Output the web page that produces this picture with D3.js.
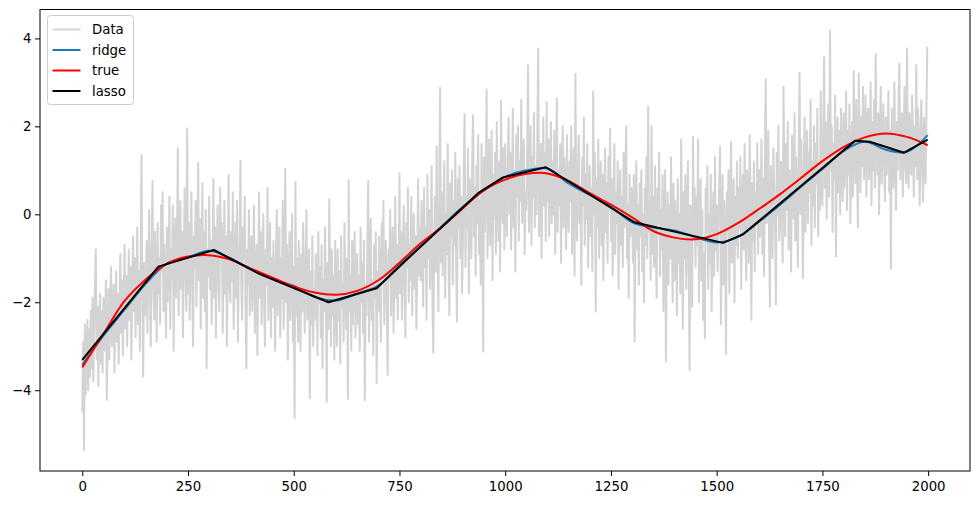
<!DOCTYPE html>
<html>
<head>
<meta charset="utf-8">
<script src="https://cdn.jsdelivr.net/npm/d3@7"></script>
<style>
body { margin: 0; background: #fff; }
svg { display: block; font-family: 'DejaVu Sans', sans-serif; }
</style>
</head>
<body>
<div id="chart"></div>
<script>
// noisy samples, one every 2 steps from 0 to 1998 (each row covers 50 steps)
const dataStep = 2
const dataY = [
	-4.5, -2.9, -5.36, -2.5, -4.1, -3.2, -2.4, -4.0, -2.6, -3.7, -2.2, -3.5, -1.9, -3.8, -2.7, -1.6, -0.8, -3.3, -2.1, -3.9, -2.4, -1.8, -3.4, -2.2, -3.6,
	-1.9, -3.1, -2.4, -1.5, -4.22, -2.8, -1.7, -3.3, -2.0, -1.2, -3.0, -2.5, -1.6, -3.6, -2.2, -1.3, -2.9, -1.8, -3.4, -2.3, -0.9, -2.7, -1.5, -3.2, -2.0,
	-0.7, -2.6, -1.4, -3.0, -1.9, -0.8, -2.4, -1.2, -3.3, -1.7, -0.5, -2.2, -1.0, -2.8, -1.6, -0.3, -2.5, -1.3, -3.1, -0.9, 1.35, -2.0, -3.69, -1.1, -2.3,
	-2.1, -0.6, -2.7, -1.2, 0.1, -1.9, -3.0, -0.8, 0.76, -1.6, -2.4, -0.4, -1.4, -2.9, -0.2, -1.8, -1.0, -2.5, 0.2, -1.3, 0.5, -2.2, -0.7, -1.5, -2.8,
	-0.3, -2.0, -1.1, 0.4, -2.6, -0.8, -1.5, 0.2, -3.1, -1.0, -0.1, -1.9, -0.6, 1.5, -2.3, -1.2, 0.3, -1.7, -0.4, -2.8, -0.9, 0.6, -1.4, -2.2, 1.95,
	-1.8, -0.2, -2.4, -0.9, 0.5, -1.6, -3.0, -0.5, -1.2, 0.3, -2.1, -0.7, 1.18, -1.5, -0.1, -2.6, -1.0, 0.7, -1.9, -0.4, -2.2, 0.1, -3.5, -0.8, -1.4,
	0.4, -1.7, -0.6, -2.5, -1.1, 0.8, -1.9, -0.3, -2.8, -0.9, 0.2, -1.4, -2.2, 0.6, -1.0, -0.2, -2.7, -1.3, 0.3, -1.8, -0.5, -3.0, -1.1, 0.9, -1.6,
	-2.0, -0.4, -1.5, 0.5, -2.6, -1.1, -0.2, -1.9, 0.3, -2.9, -1.3, -0.6, 1.21, -1.7, -2.4, -0.3, -1.0, 0.4, -2.1, -3.5, -0.8, -1.6, 0.1, -2.3, -1.2,
	-0.5, -2.2, -1.0, 0.2, -2.7, -1.5, -0.7, -3.2, -1.2, 0.5, -1.9, -0.4, -2.5, -1.1, 0.0, -2.0, -3.0, -0.8, -1.6, 0.6, -2.4, -1.3, -0.2, -2.8, -1.0,
	-2.1, -0.6, -1.7, -3.1, -0.9, 0.1, -2.3, -1.4, -0.3, -2.8, -1.0, -1.9, 0.3, -2.6, -1.2, 1.03, -2.0, -0.7, -3.3, -1.5, -0.4, -2.4, -1.1, 0.0, -2.9,
	-1.2, -4.64, 0.74, -2.3, -1.0, -2.9, -0.6, -1.8, -3.1, -0.9, -2.2, -0.2, -1.5, -2.7, -1.1, 0.1, -2.4, -1.6, -0.8, -4.18, -1.3, -2.5, -0.5, -3.0, -1.7,
	-2.4, -0.9, -1.6, -3.2, -0.4, -2.0, -1.2, -2.8, -0.7, -3.5, -1.5, -2.2, -0.3, -1.9, -4.26, -1.1, -2.6, 0.35, -1.7, -3.0, -0.8, -2.3, -1.4, -3.3, -0.6,
	-1.9, -3.0, -0.8, -2.4, -1.3, -3.4, -0.5, -2.1, -1.6, -2.9, -0.2, -1.8, -2.6, -1.0, -4.2, 0.78, -2.2, -1.4, -3.1, -0.6, -2.5, -1.2, -0.4, -2.8, -1.7,
	-0.9, -2.5, -1.4, -3.1, -0.3, -2.0, -1.1, -2.7, -0.6, -4.22, -1.6, -2.3, -0.8, 0.76, -2.9, -1.2, -0.1, -2.4, -1.5, -3.2, -0.7, -1.9, -0.4, -3.84, -1.3,
	-2.2, -0.5, -1.7, -2.9, -0.2, -1.4, 0.3, -2.5, -1.0, -0.6, -2.0, -3.65, -0.8, -1.5, 0.1, -2.3, -1.1, -0.3, -2.7, -1.6, 0.4, -1.9, -0.7, -2.4, -0.9,
	0.93, -1.8, -0.4, -2.4, -1.0, 0.2, -1.6, -2.8, -0.2, -1.2, 0.6, -2.0, -0.7, -1.5, 0.4, -2.3, -0.9, 0.0, -1.7, -0.5, -2.6, -1.1, 0.8, -1.4, -0.3,
	-1.5, 0.3, -0.8, -2.1, 0.6, -1.2, -0.3, -2.4, 0.9, -1.0, 0.1, -1.7, -0.5, 1.1, -2.0, -3.15, -0.6, 0.4, -1.3, 1.55, -0.9, -2.2, 0.2, 2.88, -1.1,
	0.5, -1.4, -0.2, 1.2, -1.9, 0.0, -0.9, 1.6, -1.1, -2.3, 0.7, -0.5, 1.0, -1.6, 0.3, -0.7, 1.4, -1.2, -2.44, 0.8, -0.3, 1.1, -1.0, 0.4, -1.8,
	-0.6, 1.0, 2.28, -1.2, 0.4, -0.3, 1.5, -1.8, 0.8, 0.0, -1.0, 1.3, 2.25, -0.5, 0.6, -1.4, 1.1, -0.2, 1.8, -0.9, 0.3, -1.6, 1.6, 0.1, -3.12,
	1.3, -0.4, 0.8, 2.84, -1.0, 0.2, 1.7, -0.7, 0.5, 1.9, -1.5, 0.9, -0.1, 1.4, -0.9, 2.1, 0.3, -0.6, 1.2, -1.3, 2.58, 0.6, -0.2, 1.5, -0.8,
	1.6, 0.2, -0.5, 1.1, 2.2, 0.0, 1.4, -0.8, 0.7, 2.4, -0.3, 1.0, -1.3, 1.8, 0.4, 2.0, -0.6, 1.2, 0.3, 2.6, -0.2, 0.9, 1.7, -0.9, 0.5,
	0.1, 1.5, 3.39, -0.4, 0.9, 2.0, -0.7, 1.3, 0.4, 2.3, -0.3, 1.1, 0.0, 1.8, 3.77, -0.5, 0.7, 1.6, -1.0, 0.8, 2.2, 0.2, 1.4, -0.6, 2.55,
	0.3, 1.7, -0.5, 0.9, 2.1, -0.2, 1.2, 0.0, 1.9, -0.9, 0.6, 2.64, -0.4, 1.0, 0.2, 1.6, -1.1, 0.8, 2.0, -0.3, 1.3, 0.5, -0.8, 1.8, 0.1,
	-0.4, 1.2, 0.3, 2.0, -0.9, 0.7, 1.5, -1.4, 3.19, 0.1, -0.6, 1.0, 1.8, -0.2, 0.5, -1.6, 1.3, 0.2, 2.2, -0.7, 0.9, -0.1, 1.6, -1.2, 0.4,
	1.1, -0.5, 0.6, -1.3, 2.79, 0.0, 1.4, -2.21, 0.8, -0.3, 1.7, -1.0, 0.4, 1.2, -0.7, 0.9, -1.5, 0.2, 1.5, -0.4, 0.7, -1.1, 1.3, 0.1, 1.95,
	-0.6, 0.8, -1.4, 0.3, 1.6, -0.9, 0.5, -0.2, 1.2, -1.7, 0.0, 1.0, -0.7, 0.4, -1.2, 1.4, -0.3, 0.7, 2.0, -1.0, 0.2, -1.9, 0.9, -0.5, 0.6,
	0.5, -1.1, 0.9, -2.9, -0.3, 1.2, -0.8, 0.2, -1.6, 0.7, -0.5, 1.0, -1.3, 0.0, -2.0, 0.6, -0.7, 1.3, -1.0, 2.45, -0.4, 0.3, -1.5, 2.0, -0.9,
	0.4, -1.2, 1.1, -0.6, -1.9, 0.6, -0.2, 1.4, -1.4, 0.1, -0.8, 0.9, -2.2, -0.3, 1.0, -3.35, -0.7, 0.5, -1.6, 0.2, -1.0, 1.3, -0.5, -2.0, 0.7,
	-1.5, 0.3, -0.6, -2.3, 0.8, -1.1, 0.0, -1.8, 1.7, -0.4, -2.6, 0.5, -1.0, 0.9, -1.7, -0.2, 1.2, -1.3, -3.54, 0.2, -0.8, -2.1, 1.76, -0.5, 0.6,
	-1.2, 0.4, -0.7, 1.7, -2.0, -0.3, 0.8, -1.5, 0.1, -2.4, -0.9, -2.82, 0.6, -0.4, 1.1, -1.7, 0.0, -1.1, 0.9, -2.2, -0.6, 0.5, -1.4, 1.3, -0.8,
	0.2, -1.3, -0.1, 0.7, 1.54, -2.5, -0.6, 0.9, -1.6, 0.3, -0.9, -3.18, 0.5, -0.4, 1.0, -1.8, 0.1, 1.65, -1.1, -0.2, 0.8, -2.0, 0.4, -0.7, 1.2,
	-1.0, 0.6, -0.3, 1.3, -1.7, 0.2, 0.9, -0.8, 1.6, -0.4, -1.5, 1.0, 0.0, -1.1, 1.8, 0.4, -2.4, 0.7, -0.6, 1.2, -1.3, 0.5, -0.2, 1.61, -0.9,
	1.0, -0.5, 0.4, 1.7, -0.9, 0.8, -1.4, 1.3, 3.07, -0.2, 0.6, 1.9, -0.7, -2.11, 1.1, 0.2, -1.0, 1.5, 0.5, -0.3, -2.05, 1.4, 0.0, 2.0, -0.6,
	-0.2, 1.2, 0.3, -1.1, 2.9, 0.7, -0.5, 1.6, 0.1, 2.1, -0.8, 1.0, 0.4, -1.3, 1.8, 0.6, -0.1, 2.3, -0.6, 1.3, 0.2, -1.2, 1.5, 3.22, 0.0,
	1.7, 0.3, -1.45, 1.1, 2.2, -0.4, 0.9, 1.9, -0.2, 1.4, 0.5, 2.6, -0.7, 1.2, 0.2, 2.0, -0.3, 1.6, 0.7, 2.4, -0.5, 1.0, 0.1, 2.8, 0.6,
	0.2, 1.8, 3.57, 0.6, 2.1, -0.1, 1.3, 2.5, 0.4, 4.18, 1.0, 2.0, -0.4, 1.6, 0.8, 2.7, -0.96, 1.4, 2.2, 0.5, 1.9, 0.0, 2.4, 1.1, 0.3,
	2.3, 0.6, 1.5, 2.8, 0.1, 1.9, 0.9, 2.5, -0.2, 1.2, 2.1, 0.4, 3.26, 1.4, 0.7, 2.6, 1.0, -0.3, 3.2, 1.7, 0.5, 2.2, 1.1, 2.9, 0.8,
	1.3, 2.7, 0.4, 1.9, 2.4, 0.8, 1.6, 3.0, 0.2, 2.1, 1.0, 2.6, 0.6, 3.64, 1.5, 0.9, 2.3, 0.0, 1.8, 2.9, 0.7, 1.4, 2.5, 1.1, 0.3,
	2.2, 0.9, 1.6, 2.8, 0.5, 1.9, -1.23, 2.4, 1.2, 0.6, 3.0, 1.5, 0.1, 2.1, 1.0, 2.6, 3.43, 0.8, 1.7, 2.3, 0.4, 1.4, 2.9, 1.1, 0.7,
	3.77, 1.2, 0.6, 2.3, 1.5, 0.9, 2.7, 1.8, 0.4, 2.0, 1.1, 3.39, 0.8, 2.4, 1.6, 0.2, 1.9, 2.6, 1.0, 0.29, 2.2, 1.3, 0.7, 2.5, 3.81
]

const trueX = [0, 50, 100, 150, 200, 250, 300, 350, 400, 450, 500, 550, 600, 650, 700, 750, 800, 850, 900, 950,
	1000, 1050, 1100, 1150, 1200, 1250, 1300, 1350, 1400, 1450, 1500, 1550, 1600, 1650, 1700, 1750, 1800, 1850, 1900, 1950, 1999]
const trueY = [-3.48, -2.72, -1.97, -1.48, -1.12, -0.96, -0.93, -1.03, -1.24, -1.44, -1.64, -1.78, -1.83, -1.74, -1.5, -1.1, -0.66, -0.29, 0.14, 0.55,
	0.79, 0.92, 0.93, 0.76, 0.48, 0.22, -0.07, -0.38, -0.53, -0.57, -0.45, -0.2, 0.12, 0.46, 0.83, 1.21, 1.53, 1.75, 1.84, 1.76, 1.57]

const ridgeX = trueX
const ridgeY = [-3.42, -2.76, -2.17, -1.58, -1.12, -0.98, -0.83, -1.0, -1.26, -1.47, -1.63, -1.88, -1.96, -1.8, -1.62, -1.15, -0.72, -0.27, 0.17, 0.55,
	0.85, 1.0, 1.04, 0.7, 0.44, 0.17, -0.18, -0.3, -0.37, -0.52, -0.64, -0.52, -0.17, 0.22, 0.63, 1.03, 1.44, 1.65, 1.47, 1.42, 1.8]

const lassoX = [0, 180, 311, 420, 582, 696, 765, 936, 995, 1096, 1305, 1515, 1563, 1827, 1862, 1943, 1999]
const lassoY = [-3.31, -1.19, -0.81, -1.36, -2.0, -1.68, -1.05, 0.48, 0.84, 1.07, -0.18, -0.65, -0.45, 1.67, 1.65, 1.4, 1.7]

const xTicks = [0, 250, 500, 750, 1000, 1250, 1500, 1750, 2000]
const yTicks = [-4, -2, 0, 2, 4]

const legendLabels = ['Data', 'ridge', 'true', 'lasso']

let colors = { Data: '#d3d3d3', ridge: '#1f77b4', true: '#ff0000', lasso: '#000000' }
let width = 980
let height = 505
let plot = { left: 40, right: 970, top: 9.5, bottom: 471 }
let fontSize = 13.3

let pairs = (xs, ys) => xs.map((v, i) => [v, ys[i]])
let dataPoints = dataY.map((v, i) => [i * dataStep, v])

// matplotlib style 5% margins around the data
function padded(ext) {
	let pad = (ext[1] - ext[0]) * 0.05
	return [ext[0] - pad, ext[1] + pad]
}

let allX = dataPoints.map(d => d[0]).concat(trueX, ridgeX, lassoX)
let allY = dataY.concat(trueY, ridgeY, lassoY)

let x = d3.scaleLinear()
	.domain(padded(d3.extent(allX)))
	.range([plot.left, plot.right])

let y = d3.scaleLinear()
	.domain(padded(d3.extent(allY)))
	.range([plot.bottom, plot.top])

let svg = d3.select('#chart')
	.append('svg')
	.attr('width', width)
	.attr('height', height)

svg.append('rect')
	.attr('width', width)
	.attr('height', height)
	.attr('fill', '#fff')

let straight = d3.line()
	.x(d => x(d[0]))
	.y(d => y(d[1]))

let smooth = d3.line()
	.x(d => x(d[0]))
	.y(d => y(d[1]))
	.curve(d3.curveCatmullRom.alpha(0.5))

let series = [
	{ name: 'Data', points: dataPoints, gen: straight },
	{ name: 'ridge', points: pairs(ridgeX, ridgeY), gen: smooth },
	{ name: 'true', points: pairs(trueX, trueY), gen: smooth },
	{ name: 'lasso', points: pairs(lassoX, lassoY), gen: straight }
]

svg.append('g')
	.selectAll('path')
	.data(series)
	.enter()
		.append('path')
		.attr('d', d => d.gen(d.points))
		.attr('fill', 'none')
		.attr('stroke', d => colors[d.name])
		.attr('stroke-width', 2)
		.attr('stroke-linejoin', 'round')

// axes
let xAxis = d3.axisBottom(x)
	.tickValues(xTicks)
	.tickFormat(d3.format('d'))
	.tickSize(5)
	.tickPadding(6)

let yAxis = d3.axisLeft(y)
	.tickValues(yTicks)
	.tickFormat(d3.format('d'))
	.tickSize(5)
	.tickPadding(3.5)

function styleAxis(g) {
	g.select('.domain').remove()
	g.attr('font-family', null).attr('font-size', null)
	g.selectAll('text').attr('fill', '#000').style('font-size', fontSize + 'px')
	g.selectAll('line').attr('stroke', '#000').attr('stroke-width', 1)
}

svg.append('g')
	.attr('transform', `translate(0,${plot.bottom})`)
	.call(xAxis)
	.call(styleAxis)

svg.append('g')
	.attr('transform', `translate(${plot.left},0)`)
	.call(yAxis)
	.call(styleAxis)

svg.append('rect')
	.attr('x', plot.left)
	.attr('y', plot.top)
	.attr('width', plot.right - plot.left)
	.attr('height', plot.bottom - plot.top)
	.attr('fill', 'none')
	.attr('stroke', '#000')
	.attr('stroke-width', 1)

// legend
let legend = svg.append('g')
	.attr('transform', 'translate(47.5,15.5)')

legend.append('rect')
	.attr('width', 86)
	.attr('height', 89)
	.attr('rx', 3)
	.attr('fill', '#fff')
	.attr('fill-opacity', 0.8)
	.attr('stroke', '#cccccc')
	.attr('stroke-width', 1)

let item = legend.selectAll('.item')
	.data(legendLabels)
	.enter()
		.append('g')
		.attr('class', 'item')
		.attr('transform', (d, i) => `translate(0,${14 + i * 20.5})`)

item.append('line')
	.attr('x1', 5)
	.attr('x2', 33)
	.attr('stroke', d => colors[d])
	.attr('stroke-width', 2)

item.append('text')
	.attr('x', 44.5)
	.attr('dy', '0.36em')
	.style('font-size', fontSize + 'px')
	.text(d => d)
</script>
</body>
</html>
